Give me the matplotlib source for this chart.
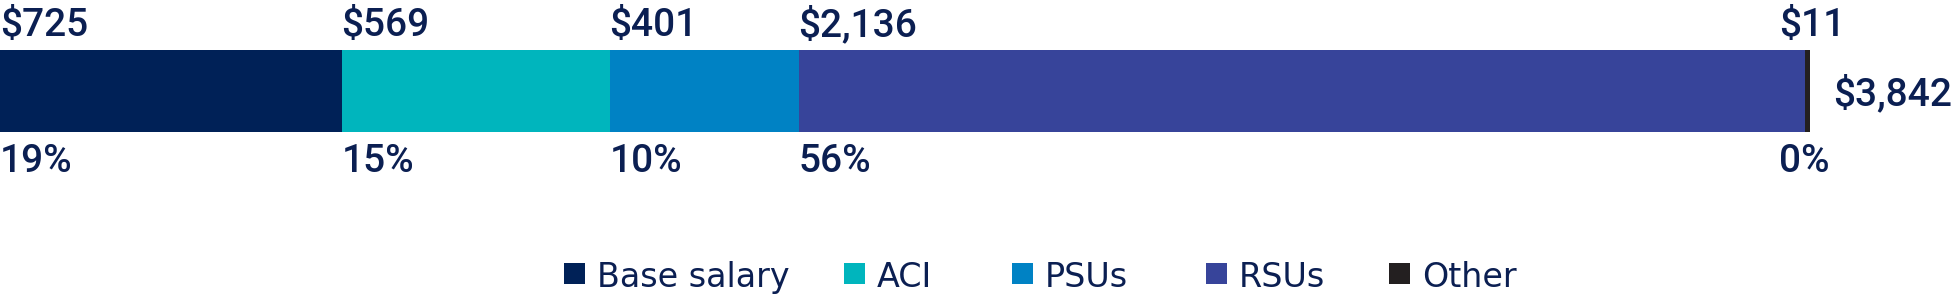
import matplotlib
matplotlib.use('Agg')
import matplotlib.pyplot as plt
from matplotlib.patches import Rectangle

# ---- data ----
categories = ['Base salary', 'ACI', 'PSUs', 'RSUs', 'Other']
values = [725, 569, 401, 2136, 11]
colors = ['#002157', '#00B5BD', '#0082C4', '#37449A', '#231F20']
text_color = '#0b1f52'

total = sum(values)
pct_labels = [f"{round(v / total * 100):.0f}%" for v in values]
value_labels = [f"${v:,}" for v in values]
total_label = f"${total:,}"

W, H = 1953, 303
fig = plt.figure(figsize=(W / 100, H / 100), dpi=100)

bar_right_px = 1810
bar_top_px, bar_bot_px = 50, 132
ax = fig.add_axes([0, 1 - bar_bot_px / H, bar_right_px / W, (bar_bot_px - bar_top_px) / H])
ax.set_xlim(0, total)
ax.set_ylim(-0.5, 0.5)
ax.axis('off')

val_font = ['Roboto', 'DejaVu Sans']
val_size = 28
val_weight = 500

left = 0
for i, (v, col) in enumerate(zip(values, colors)):
    ax.barh(0, v, left=left, height=1, color=col, linewidth=0)
    dx = -26 if i == len(values) - 1 else 0
    ax.annotate(value_labels[i], xy=(left, 0.5), xytext=(dx, 14), textcoords='offset pixels',
                ha='left', va='baseline', fontsize=val_size, color=text_color,
                family=val_font, fontweight=val_weight, annotation_clip=False)
    ax.annotate(pct_labels[i], xy=(left, -0.5), xytext=(dx, -40), textcoords='offset pixels',
                ha='left', va='baseline', fontsize=val_size, color=text_color,
                family=val_font, fontweight=val_weight, annotation_clip=False)
    left += v

ax.annotate(total_label, xy=(total, 0), xytext=(23, -14), textcoords='offset pixels',
            ha='left', va='baseline', fontsize=val_size, color=text_color,
            family=val_font, fontweight=val_weight, annotation_clip=False)

# ---- legend ----
marker_left_px = [564, 844, 1012, 1206, 1389]
msize = 21
m_top = 263
baseline_px = 287
for cat, col, mx in zip(categories, colors, marker_left_px):
    fig.patches.append(Rectangle((mx / W, 1 - (m_top + msize) / H), msize / W, msize / H,
                                 transform=fig.transFigure, facecolor=col, edgecolor='none'))
    fig.text((mx + 33) / W, 1 - baseline_px / H, cat, ha='left', va='baseline',
             fontsize=24, color=text_color, family=['DejaVu Sans'])

fig.savefig('out.png', dpi=100)
